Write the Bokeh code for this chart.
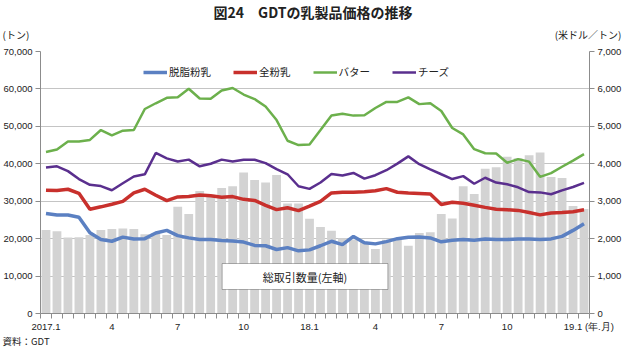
from bokeh.plotting import figure
from bokeh.models import (Range1d, LinearAxis, FixedTicker, NumeralTickFormatter,
                          Label, BoxAnnotation, Legend, LegendItem, ColumnDataSource)
from bokeh.embed import file_html
from bokeh.resources import INLINE

# ---- data (GDT auctions, 2 per month, 2017.1 - 2019.1) ----
x_labels = ["2017.1", "4", "7", "10", "18.1", "4", "7", "10", "19.1"]
x_label_idx = [0, 6, 12, 18, 24, 30, 36, 42, 48]
x_unit = "(年.月)"

volume = [22300, 22000, 20300, 20400, 21000, 22300, 22600, 22700, 22600, 21200,
          21500, 21000, 28500, 26600, 32700, 31700, 33500, 34000, 37700, 35700,
          35000, 37000, 29400, 29400, 25300, 23100, 22100, 20100, 19800, 19100,
          17200, 19700, 20200, 18100, 21500, 21700, 26600, 25400, 34000, 31900,
          38700, 39100, 41900, 41500, 42300, 43000, 36500, 36200, 28700, 27900]

smp = [2670, 2630, 2630, 2570, 2160, 1975, 1930, 2040, 1990, 2000,
       2150, 2220, 2080, 2020, 1975, 1975, 1950, 1940, 1908, 1820,
       1810, 1710, 1760, 1675, 1700, 1810, 1930, 1840, 2060, 1890,
       1860, 1920, 2000, 2040, 2044, 2020, 1916, 1959, 1976, 1959,
       1993, 1976, 1976, 1993, 1993, 1976, 1993, 2060, 2220, 2400]

wmp = [3295, 3285, 3320, 3210, 2785, 2850, 2920, 2995, 3225, 3320,
       3160, 3015, 3115, 3125, 3165, 3145, 3105, 3124, 3050, 3020,
       2890, 2775, 2826, 2750, 2868, 2996, 3220, 3240, 3240, 3250,
       3280, 3336, 3240, 3220, 3205, 3190, 2912, 2970, 2945, 2890,
       2835, 2785, 2770, 2755, 2700, 2635, 2686, 2700, 2720, 2770]

butter = [4315, 4383, 4596, 4596, 4638, 4902, 4757, 4885, 4902, 5464,
          5617, 5762, 5779, 6005, 5745, 5736, 5957, 6024, 5850, 5730,
          5530, 5168, 4615, 4500, 4517, 4900, 5290, 5338, 5287, 5296,
          5490, 5654, 5654, 5775, 5594, 5615, 5410, 4955, 4785, 4390,
          4282, 4274, 4027, 4125, 4057, 3652, 3750, 3920, 4083, 4257]

cheese = [3898, 3932, 3804, 3591, 3438, 3404, 3294, 3481, 3660, 3719,
          4289, 4145, 4060, 4111, 3932, 4000, 4111, 4060, 4106, 4106,
          4018, 3857, 3720, 3400, 3330, 3500, 3730, 3687, 3755, 3602,
          3695, 3828, 4005, 4198, 3990, 3850, 3720, 3592, 3670, 3466,
          3627, 3499, 3452, 3372, 3244, 3236, 3185, 3290, 3380, 3490]

series_names = ["脱脂粉乳", "全粉乳", "バター", "チーズ"]
series_colors = ["#5b80c2", "#c8302c", "#6cb04c", "#5a2f8e"]

n = len(volume)
xs = [i + 0.5 for i in range(n)]
src = ColumnDataSource(dict(x=xs, vol=volume, smp=smp, wmp=wmp, butter=butter, cheese=cheese))

JP = "Noto Sans CJK JP"
NUM = "Liberation Sans"

# layout (pixels inside the 624x348 figure)
W, H = 624, 348
FL, FR, FT, FB = 40, 590, 51, 313
YMAX = 70000

def px_x(px):
    return (px - FL) / (FR - FL) * n

def px_y(py):
    return (FB - py) / (FB - FT) * YMAX

p = figure(width=W, height=H, x_range=Range1d(0, n), y_range=Range1d(0, YMAX),
           output_backend="svg", toolbar_location=None, title=None,
           min_border_left=FL, min_border_right=W - FR, min_border_top=FT, min_border_bottom=H - FB)
p.extra_y_ranges = {"price": Range1d(0, 7000)}
p.outline_line_color = None
p.background_fill_color = "white"
p.border_fill_color = "white"

# grid
p.xgrid.visible = False
p.ygrid.grid_line_color = "#c4c4c4"
p.ygrid.grid_line_width = 1

# bars
p.vbar(x="x", top="vol", width=0.8, source=src, fill_color="#d3d3d3", line_color=None)

# lines
r_smp = p.line("x", "smp", source=src, y_range_name="price", line_color=series_colors[0], line_width=3.5)
r_wmp = p.line("x", "wmp", source=src, y_range_name="price", line_color=series_colors[1], line_width=3.5)
r_but = p.line("x", "butter", source=src, y_range_name="price", line_color=series_colors[2], line_width=2.5)
r_che = p.line("x", "cheese", source=src, y_range_name="price", line_color=series_colors[3], line_width=2.5)

# axes
def style_axis(ax):
    ax.axis_line_color = "#8c8c8c"
    ax.major_tick_line_color = "#8c8c8c"
    ax.minor_tick_line_color = "#8c8c8c"
    ax.major_label_text_font = NUM
    ax.major_label_text_font_size = "9.5px"
    ax.major_label_text_color = "#222222"

yl = p.yaxis[0]
yl.ticker = FixedTicker(ticks=list(range(0, 70001, 10000)))
yl.formatter = NumeralTickFormatter(format="0,0")
yl.major_tick_out = 5
yl.major_tick_in = 0
yl.minor_tick_out = 0
yl.major_label_standoff = 3
style_axis(yl)

yr = LinearAxis(y_range_name="price", ticker=FixedTicker(ticks=list(range(0, 7001, 1000))),
                formatter=NumeralTickFormatter(format="0,0"))
yr.major_tick_out = 5
yr.major_tick_in = 0
yr.minor_tick_out = 0
yr.major_label_standoff = 3
style_axis(yr)
p.add_layout(yr, "right")

# x labels: last label carries the unit; left padding keeps "19.1" centred on its tick
tick_text = list(x_labels)
tick_text[-1] = "\u2007" * 6 + x_labels[-1] + " " + x_unit
xa = p.xaxis[0]
xa.ticker = FixedTicker(ticks=[i + 0.5 for i in x_label_idx], minor_ticks=list(range(0, n + 1)))
xa.major_label_overrides = {i + 0.5: lab for i, lab in zip(x_label_idx, tick_text)}
xa.major_tick_out = 0
xa.major_tick_in = 0
xa.minor_tick_out = 5
xa.minor_tick_in = 0
xa.major_label_standoff = 2
style_axis(xa)

# legend
legend = Legend(items=[LegendItem(label=series_names[0], renderers=[r_smp]),
                       LegendItem(label=series_names[1], renderers=[r_wmp]),
                       LegendItem(label=series_names[2], renderers=[r_but]),
                       LegendItem(label=series_names[3], renderers=[r_che])],
                orientation="horizontal", location=(103, 234),
                border_line_color=None, background_fill_alpha=0,
                label_text_font=JP, label_text_font_size="10.5px", label_text_color="#222222",
                glyph_width=24, glyph_height=14, label_height=14, label_standoff=2,
                spacing=22, padding=2, margin=0)
p.add_layout(legend)

# volume label box
p.add_layout(BoxAnnotation(left=px_x(222), right=px_x(388), bottom=px_y(289), top=px_y(263),
                           fill_color="white", fill_alpha=1, line_color="#000000", line_width=1))
p.add_layout(Label(x=px_x(305), y=px_y(276), text="総取引数量(左軸)", text_align="center",
                   text_baseline="middle", text_font=JP, text_font_size="11px",
                   text_color="#222222"))

# texts outside the plot area: placed in side panels (not clipped), positioned in data units
def outside_label(px, py, text, align, side, size="10px", style="normal"):
    p.add_layout(Label(x=px_x(px), y=px_y(py), text=text, text_align=align,
                       text_baseline="middle", text_font=JP, text_font_size=size,
                       text_color="#222222", text_font_style=style), side)

outside_label(313, 11, "図24　GDTの乳製品価格の推移", "center", "above", size="14px", style="bold")
outside_label(2, 34, "(トン)", "left", "above")
outside_label(622, 34, "(米ドル／トン)", "right", "above")
outside_label(2, 340, "資料：GDT", "left", "below", size="9.5px")

open("out.html", "w").write(file_html(p, INLINE))
